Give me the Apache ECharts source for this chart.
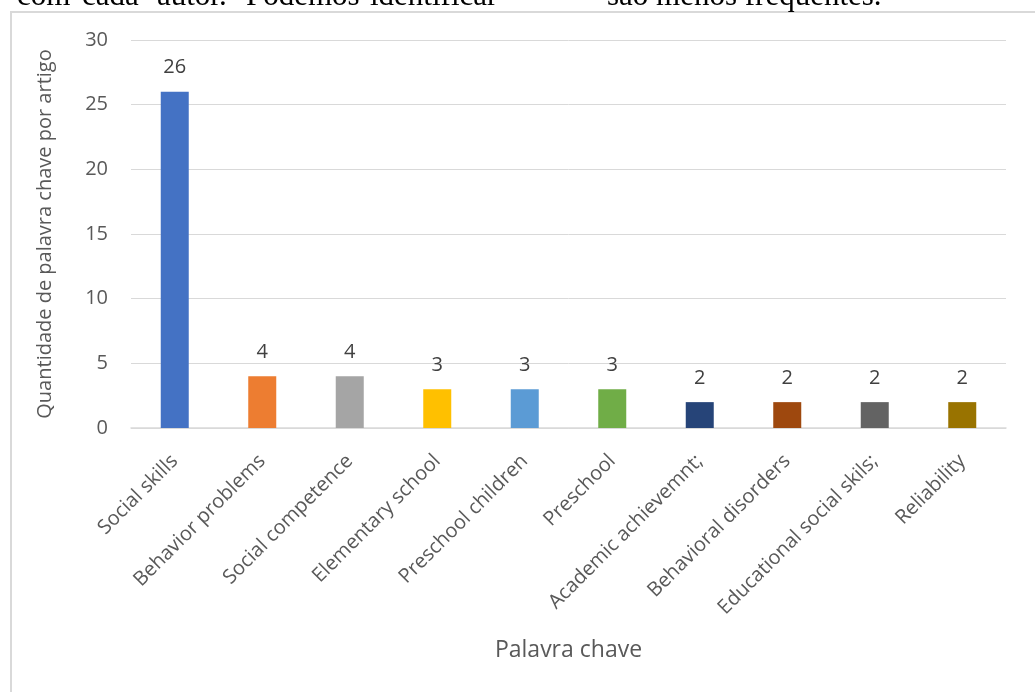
<!DOCTYPE html>
<html>
<head>
<meta charset="utf-8">
<style>
  html, body { margin: 0; padding: 0; background: #ffffff; }
  #chart { width: 1035px; height: 692px; }
</style>
<script src="https://cdn.jsdelivr.net/npm/echarts@6/dist/echarts.min.js"></script>
</head>
<body>
<div id="chart"></div>
<script>
// Keywords and how many articles list each one
const categories = [
  'Social skills', 'Behavior problems', 'Social competence', 'Elementary school',
  'Preschool children', 'Preschool', 'Academic achievemnt;', 'Behavioral disorders',
  'Educational social skils;', 'Reliability'
];
const counts = [26, 4, 4, 3, 3, 3, 2, 2, 2, 2];
const barColors = [
  '#4472C4', '#ED7D31', '#A5A5A5', '#FFC000', '#5B9BD5',
  '#70AD47', '#264478', '#9E480E', '#636363', '#997300'
];
const yTicks = { min: 0, max: 30, interval: 5 };

// Surrounding paragraph text running above the chart frame (justified words)
const headerWords = [
  ['com', 17], ['cada', 82], ['autor.', 157], ['Podemos', 246], ['identificar', 370],
  ['são menos frequentes.', 607]
];

const labelFont = '"Open Sans", "Liberation Sans", sans-serif';

const chart = echarts.init(document.getElementById('chart'), null, { renderer: 'canvas' });

const graphics = [
  {
    type: 'rect',
    shape: { x: 11, y: 12, width: 1100, height: 800 },
    style: { fill: 'none', stroke: '#d9d9d9', lineWidth: 2 },
    z: -1, silent: true
  }
].concat(headerWords.map(([w, x]) => ({
  type: 'text',
  left: x, top: -19,
  style: {
    text: w,
    font: '31px "Liberation Serif", "DejaVu Serif", serif',
    fill: '#000000'
  },
  silent: true
})));

chart.setOption({
  backgroundColor: '#ffffff',
  animation: false,
  graphic: graphics,
  grid: { left: 131, right: 29, top: 40, bottom: 264, containLabel: false },
  xAxis: {
    type: 'category',
    data: categories,
    name: 'Palavra chave',
    nameLocation: 'middle',
    nameGap: 211,
    nameTextStyle: { color: '#595959', fontSize: 23, fontFamily: labelFont },
    axisLine: { lineStyle: { color: '#d9d9d9', width: 1.5 } },
    axisTick: { show: false },
    axisLabel: {
      rotate: 45,
      interval: 0,
      margin: 30,
      color: '#595959',
      fontSize: 20,
      fontFamily: labelFont
    }
  },
  yAxis: {
    type: 'value',
    min: yTicks.min,
    max: yTicks.max,
    interval: yTicks.interval,
    name: 'Quantidade de palavra chave por artigo',
    nameLocation: 'middle',
    nameGap: 76,
    nameTextStyle: { color: '#595959', fontSize: 20, fontFamily: labelFont },
    axisLine: { show: false },
    axisTick: { show: false },
    axisLabel: { color: '#595959', fontSize: 20, fontFamily: labelFont, margin: 23 },
    splitLine: { lineStyle: { color: '#d9d9d9', width: 1 } }
  },
  series: [{
    type: 'bar',
    barWidth: 28,
    data: counts.map((v, i) => ({ value: v, itemStyle: { color: barColors[i] } })),
    label: {
      show: true,
      position: 'top',
      distance: 14,
      color: '#404040',
      fontSize: 20,
      fontFamily: labelFont
    }
  }]
});
</script>
</body>
</html>
